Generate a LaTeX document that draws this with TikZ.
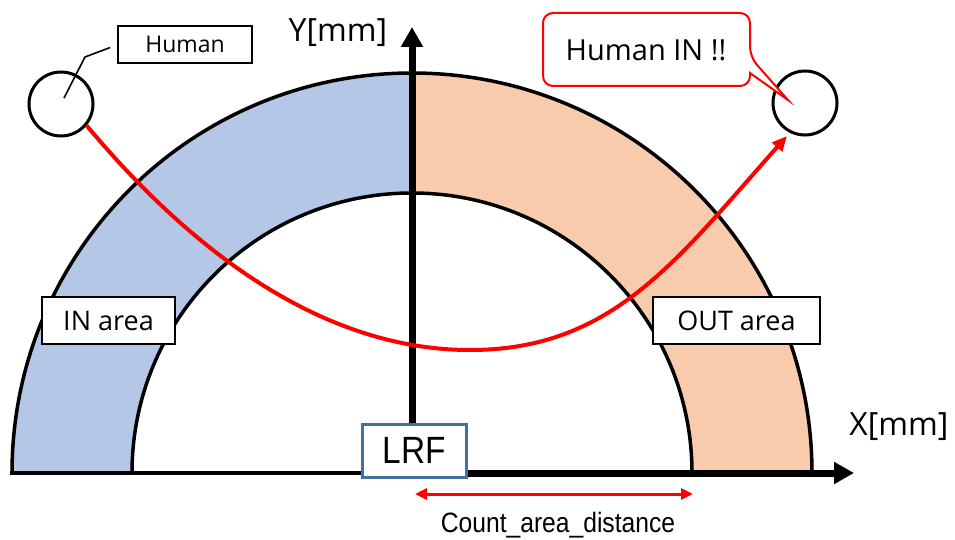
\documentclass[tikz,border=0pt]{standalone}
\usepackage{fontspec}
\usepackage{graphicx}
\setmainfont{Open Sans}
\newfontfamily\narrowfont{Liberation Sans}
\usetikzlibrary{arrows.meta}
\definecolor{inblue}{HTML}{B4C7E7}
\definecolor{outorange}{HTML}{F8CBAD}
\definecolor{lrfblue}{HTML}{41719C}
\definecolor{hred}{HTML}{FF0000}
\begin{document}
\begin{tikzpicture}[x=1pt,y=-1pt,
  outline/.style={draw=black, line width=3.5pt},
  axisline/.style={draw=black, line width=7pt, -{Triangle[length=20pt,width=21pt]}},
  areabox/.style={draw=black, line width=1.6pt, fill=white, inner sep=0pt,
    minimum height=47pt, font=\fontsize{27}{30}\selectfont},
  person/.style={circle, draw=black, line width=3pt, minimum size=64pt, inner sep=0pt},
  axislabel/.style={inner sep=0pt, font=\fontsize{32}{36}\selectfont},
  trajectory/.style={draw=hred, line width=4pt}
  ]
\useasboundingbox (0,0) rectangle (955,540);
% bands
\fill[inblue] (12,473) arc[start angle=180,end angle=270,radius=400]
  -- (412,193) arc[start angle=270,end angle=180,radius=280] -- cycle;
\fill[outorange] (412,73) arc[start angle=270,end angle=360,radius=400]
  -- (692,473) arc[start angle=360,end angle=270,radius=280] -- cycle;
% outlines
\draw[outline] (12,473) arc[start angle=180,end angle=360,radius=400];
\draw[outline] (132,473) arc[start angle=180,end angle=360,radius=280];
\draw[outline, line cap=rect] (12,473) -- (812,473);
% axes
\coordinate (o) at (412,473);
\coordinate (ytip) at (412,27);
\coordinate (xtip) at (854,473);
\draw[axisline] (o) -- (ytip);
\draw[axisline] (o) -- (xtip);
\node[axislabel] (ylab) at (338,33) {Y[mm]};
\node[axislabel] (xlab) at (899,427) {X[mm]};
% LRF
\node[draw=lrfblue, line width=3pt, fill=white, minimum width=104pt, minimum height=53pt,
  inner sep=0pt, font=\narrowfont\fontsize{38}{40}\selectfont] (lrf) at (414,450.5) {\scalebox{0.88}[1]{LRF}};
% area labels
\node[areabox, minimum width=133pt] (inarea) at (108.5,320.5) {IN area};
\node[areabox, minimum width=167pt] (outarea) at (736.5,320.5) {OUT area};
% humans
\node[person] (hl) at (61,104) {};
\node[person] (hr) at (805,103) {};
\node[draw=black, line width=1.6pt, fill=white, minimum width=134pt, minimum height=37pt,
  inner sep=0pt, font=\fontsize{23}{26}\selectfont] (hbox) at (185,44.5) {Human};
\draw[black, line width=1.6pt] ([shift={(3,-6)}]hl.center) -- (85,57) -- ([shift={(-7,3)}]hbox.west);
% callout
\draw[hred, line width=2pt, fill=white, rounded corners=10pt]
  (543,13) -- (750,13) -- (750,57) [sharp corners] -- (788,100) -- (750,73)
  [rounded corners=10pt] -- (750,86) -- (543,86) -- cycle;
\node[inner sep=0pt, font=\fontsize{29}{32}\selectfont] (callout) at (646,50) {Human IN !!};
% trajectory
\coordinate (low) at (470,350);
\coordinate (goal) at (787,136);
\draw[trajectory, -{Triangle[length=15pt,width=13pt]}]
  (hl.-40) .. controls (210,273) and (340,350) .. (low)
  .. controls (612,350) and (676,261) .. (goal);
% distance
\coordinate (d1) at (415,494);
\coordinate (d2) at (693,494);
\draw[hred, line width=3pt, {Triangle[length=12pt,width=11pt]}-{Triangle[length=12pt,width=11pt]}] (d1) -- (d2);
\node[inner sep=0pt, font=\narrowfont\fontsize{28}{30}\selectfont] (dist) at (558,525) {\scalebox{0.88}[1]{Count\_area\_distance}};
\end{tikzpicture}
\end{document}
